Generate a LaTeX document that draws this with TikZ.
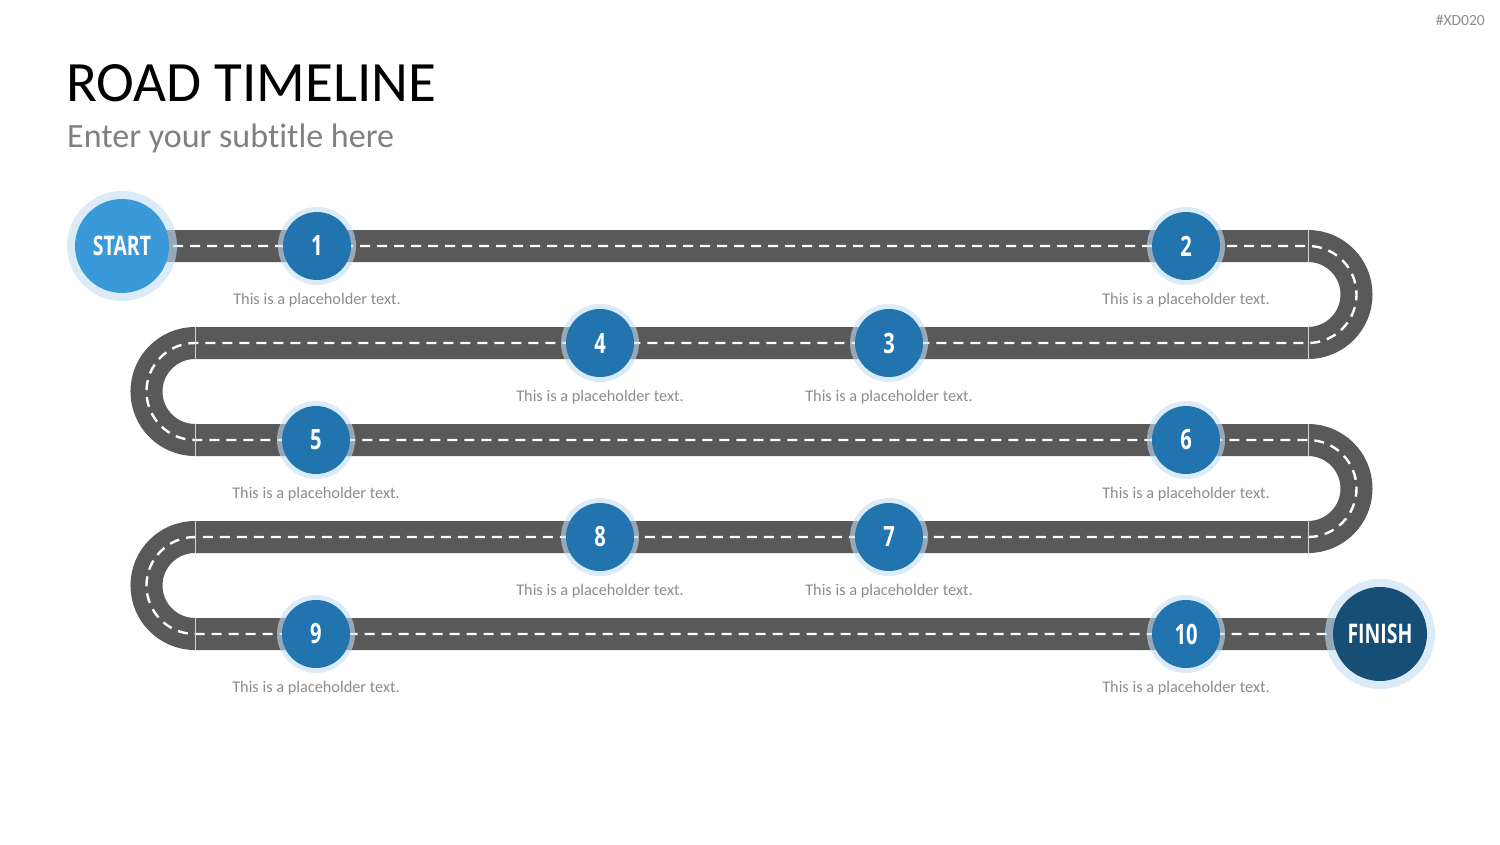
\documentclass[tikz,border=0pt]{standalone}
\usepackage{fontspec}
\setmainfont[Ligatures=NoCommon]{Carlito}
\newfontfamily\numfont[FakeStretch=0.72]{Open Sans}
\usepackage{tikz}
\usetikzlibrary{positioning, calc}
\usepackage{xcolor}

\definecolor{roadgray}{HTML}{595959}
\definecolor{startblue}{HTML}{3A99D8}
\definecolor{stepblue}{HTML}{2274AE}
\definecolor{finishblue}{HTML}{174E75}
\definecolor{halo}{HTML}{C5DEF4}
\definecolor{textgray}{HTML}{8C8C8C}

\begin{document}
\begin{tikzpicture}[x=1pt, y=-1pt,
    road/.style={roadgray, line width=32pt},
    lane/.style={white, line width=2.4pt, dash pattern=on 10pt off 7pt},
    joint/.style={white!75!roadgray, line width=0.6pt},
    halo ring/.style={fill=halo, opacity=0.6},
    milestone/.style={circle, fill=stepblue, minimum size=68pt, inner sep=0pt,
        text=white, font=\numfont\bfseries\fontsize{28}{28}\selectfont},
    endpoint/.style={circle, minimum size=94pt, inner sep=0pt,
        text=white, font=\numfont\bfseries\fontsize{27}{27}\selectfont},
    caption/.style={text=textgray, font=\fontsize{16.3}{16.3}\selectfont}]
    \useasboundingbox (0,0) rectangle (1500,844);

    % Titles
    \node[anchor=base west, inner sep=0pt, font=\fontsize{57}{57}\selectfont] (title) at (66,101) {ROAD TIMELINE};
    \node[anchor=base west, inner sep=0pt, text=black!50, font=\fontsize{34}{34}\selectfont] (subtitle) at (67,147) {Enter your subtitle here};
    \node[anchor=base east, inner sep=0pt, text=textgray, font=\fontsize{15.5}{15.5}\selectfont] (tag) at (1485,25) {\#XD020};

    % Road
    \coordinate (R1) at (122,246);
    \coordinate (R5) at (1380,634);
    \def\roadpath{(R1) -- (1308,246) arc (-90:90:48.5) -- (195,343) arc (270:90:48.5)
        -- (1308,440) arc (-90:90:48.5) -- (195,537) arc (270:90:48.5) -- (R5)}
    \draw[road] \roadpath;
    \draw[lane] \roadpath;
    \foreach \x/\y in {1308/246, 1308/343, 195/343, 195/440, 1308/440, 1308/537, 195/537, 195/634}
        \draw[joint] (\x,\y-16) -- (\x,\y+16);

    % Start and finish
    \fill[halo ring] (R1) circle (55);
    \node[endpoint, fill=startblue] (start) at (R1) {START};
    \fill[halo ring] (R5) circle (55);
    \node[endpoint, fill=finishblue] (finish) at (R5) {FINISH};

    % Milestones
    \foreach \n/\x/\y in {1/317/246, 2/1186/246, 3/889/343, 4/600/343, 5/316/440,
                          6/1186/440, 7/889/537, 8/600/537, 9/316/634, 10/1186/634} {
        \fill[halo ring] (\x,\y) circle (39);
        \node[milestone] (m\n) at (\x,\y) {\n};
        \node[caption, below=9pt of m\n] (c\n) {This is a placeholder text.};
    }
\end{tikzpicture}
\end{document}
